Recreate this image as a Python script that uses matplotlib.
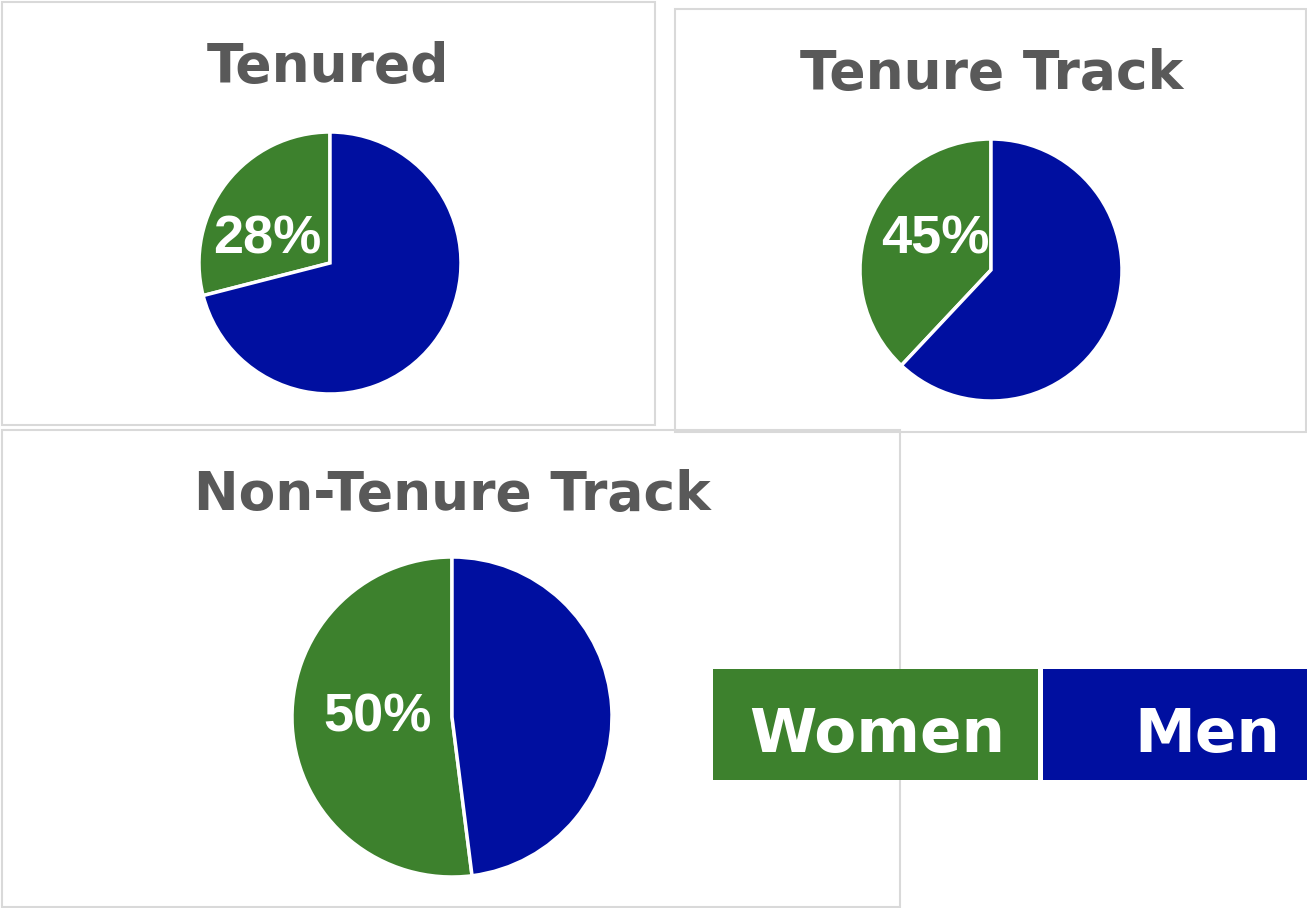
import matplotlib
matplotlib.use("Agg")
import matplotlib.pyplot as plt
from matplotlib.patches import Rectangle

# data
titles = ["Tenured", "Tenure Track", "Non-Tenure Track"]
women = [29, 38, 52]
men = [71, 62, 48]
pct_labels = ["28%", "45%", "50%"]
legend_names = ["Women", "Men"]

GREEN = "#3d812d"
BLUE = "#000fa0"
GRAY = "#595959"
BORDER = "#d9d9d9"

W, H = 1307, 908
fig = plt.figure(figsize=(W / 100, H / 100), dpi=100)
fig.patch.set_facecolor("white")


def px_box(x0, y0, x1, y1):
    # pixel box (top-left origin) -> figure fraction [l, b, w, h]
    return [x0 / W, 1 - y1 / H, (x1 - x0) / W, (y1 - y0) / H]


# panel frames
panels = [(2, 2, 655, 425), (675, 9, 1306, 432), (2, 430, 900, 907)]
for x0, y0, x1, y1 in panels:
    l, b, w, h = px_box(x0, y0, x1, y1)
    fig.add_artist(Rectangle((l, b), w, h, transform=fig.transFigure,
                             fill=False, edgecolor=BORDER, linewidth=1.5))

# pie placement: centre x, centre y, radius, title x, title baseline, label offset
pies = [
    (330, 263, 131, 328, 82, (-0.477, 0.18)),
    (991, 270, 131, 992, 89, (-0.427, 0.235)),
    (452, 717, 160, 452, 510, (-0.466, -0.005)),
]

for i, (cx, cy, r, tx, ty, off) in enumerate(pies):
    ax = fig.add_axes(px_box(cx - r, cy - r, cx + r, cy + r))
    ax.pie([women[i], men[i]], colors=[GREEN, BLUE], startangle=90,
           counterclock=True, radius=1,
           wedgeprops=dict(edgecolor="white", linewidth=2.5))
    ax.set_xlim(-1, 1)
    ax.set_ylim(-1, 1)
    ax.set_aspect("equal")
    ax.axis("off")
    ax.text(off[0], off[1], pct_labels[i], ha="center", va="center",
            color="white", fontsize=39, fontweight="bold",
            family="Liberation Sans")
    fig.text(tx / W, 1 - ty / H, titles[i], ha="center", va="baseline",
             color=GRAY, fontsize=38.5, fontweight="bold",
             family="DejaVu Sans")

# legend boxes
leg = [(713, 669, 1038, 780), (1043, 669, 1307, 780)]
for (x0, y0, x1, y1), c in zip(leg, [GREEN, BLUE]):
    l, b, w, h = px_box(x0, y0, x1, y1)
    fig.add_artist(Rectangle((l, b), w, h, transform=fig.transFigure,
                             facecolor=c, edgecolor="none"))
for x, name in zip([877, 1207], legend_names):
    fig.text(x / W, 1 - 752 / H, name, ha="center", va="baseline",
             color="white", fontsize=44, fontweight="bold",
             family="DejaVu Sans")

fig.savefig("out.png", dpi=100, facecolor="white")
